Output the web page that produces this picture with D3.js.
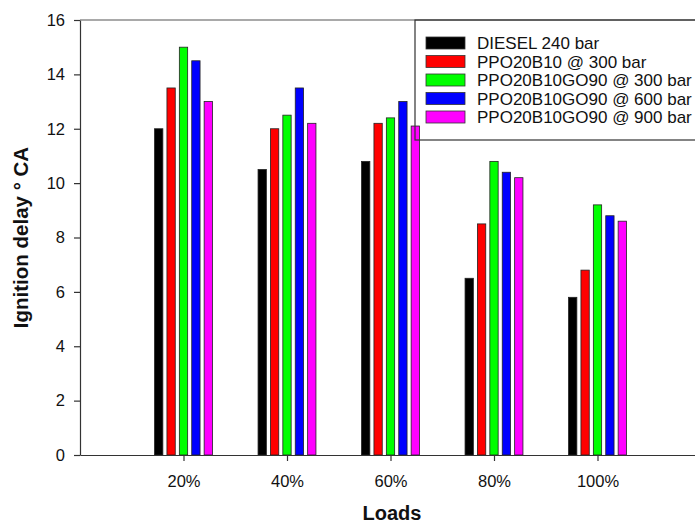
<!DOCTYPE html>
<html>
<head>
  <style>
    body { margin: 0; background: #fff; }
    svg { font-family: "Liberation Sans", Arial, sans-serif; }
  </style>
</head>
<body>
  <script src="https://cdn.jsdelivr.net/npm/d3@7"></script>
  <script>
    const loads = ['20%', '40%', '60%', '80%', '100%'];
    const seriesNames = [
      'DIESEL 240 bar',
      'PPO20B10 @ 300 bar',
      'PPO20B10GO90 @ 300 bar',
      'PPO20B10GO90 @ 600 bar',
      'PPO20B10GO90 @ 900 bar'
    ];
    const seriesColors = ['#000000', '#ff0000', '#00ff00', '#0000ff', '#ff00ff'];
    const diesel240 = [12, 10.5, 10.8, 6.5, 5.8];
    const ppo300 = [13.5, 12, 12.2, 8.5, 6.8];
    const go90at300 = [15, 12.5, 12.4, 10.8, 9.2];
    const go90at600 = [14.5, 13.5, 13, 10.4, 8.8];
    const go90at900 = [13, 12.2, 12.1, 10.2, 8.6];
    const yTicks = [0, 2, 4, 6, 8, 10, 12, 14, 16];

    const allSeries = [diesel240, ppo300, go90at300, go90at600, go90at900];

    const width = 695, height = 524;
    const plotLeft = 80, plotRight = 701, plotTop = 20, plotBottom = 455;

    const svg = d3.select('body').append('svg')
      .attr('width', width)
      .attr('height', height);

    const x = d3.scaleLinear().domain([0, loads.length + 1]).range([plotLeft, plotRight]);
    const y = d3.scaleLinear().domain([0, 16]).range([plotBottom, plotTop]);
    const inner = d3.scaleBand()
      .domain(d3.range(seriesNames.length))
      .range([-31, 31])
      .paddingInner(0.33)
      .paddingOuter(0.165);

    // bars
    allSeries.forEach((vals, s) => {
      svg.append('g').selectAll('rect')
        .data(vals)
        .enter()
        .append('rect')
        .attr('x', (d, i) => x(i + 1) + inner(s))
        .attr('y', d => y(d))
        .attr('width', inner.bandwidth())
        .attr('height', d => y(0) - y(d))
        .attr('fill', seriesColors[s])
        .attr('stroke', '#222')
        .attr('stroke-width', 0.8);
    });

    // axes
    const xAxis = d3.axisBottom(x)
      .tickValues(d3.range(1, loads.length + 1))
      .tickFormat(d => loads[d - 1])
      .tickSizeInner(6)
      .tickSizeOuter(0)
      .tickPadding(14);

    const yAxis = d3.axisLeft(y)
      .tickValues(yTicks)
      .tickSizeInner(6)
      .tickSizeOuter(0)
      .tickPadding(9);

    const gx = svg.append('g')
      .attr('transform', `translate(0,${plotBottom})`)
      .call(xAxis);
    const gy = svg.append('g')
      .attr('transform', `translate(${plotLeft},0)`)
      .call(yAxis);

    [gx, gy].forEach(g => {
      g.selectAll('path, line').attr('stroke', '#333').attr('stroke-width', 1.2);
      g.selectAll('text')
        .attr('fill', '#111')
        .style('font-size', '16.5px')
        .style('font-family', '"Liberation Sans", Arial, sans-serif');
    });

    // top frame line
    svg.append('line')
      .attr('x1', plotLeft).attr('x2', plotRight)
      .attr('y1', plotTop).attr('y2', plotTop)
      .attr('stroke', '#555')
      .attr('stroke-width', 1.2);

    // axis titles
    svg.append('text')
      .attr('x', 392)
      .attr('y', 520)
      .attr('text-anchor', 'middle')
      .style('font-size', '20px')
      .style('font-weight', 'bold')
      .attr('fill', '#111')
      .text('Loads');

    svg.append('text')
      .attr('transform', `translate(28,${(plotTop + plotBottom) / 2}) rotate(-90)`)
      .attr('text-anchor', 'middle')
      .style('font-size', '20.5px')
      .style('font-weight', 'bold')
      .attr('fill', '#111')
      .text('Ignition delay ° CA');

    // legend
    const legend = svg.append('g').attr('transform', 'translate(415,20)');
    legend.append('rect')
      .attr('x', 0).attr('y', 0)
      .attr('width', 300).attr('height', 120)
      .attr('fill', 'none')
      .attr('stroke', '#333')
      .attr('stroke-width', 1.2);

    const rows = legend.selectAll('g.row')
      .data(seriesNames)
      .enter()
      .append('g')
      .attr('class', 'row')
      .attr('transform', (d, i) => `translate(0,${23 + i * 18.5})`);

    rows.append('rect')
      .attr('x', 11).attr('y', -6)
      .attr('width', 39).attr('height', 12)
      .attr('fill', (d, i) => seriesColors[i])
      .attr('stroke', '#333')
      .attr('stroke-width', 0.8);

    rows.append('text')
      .attr('x', 62)
      .attr('y', 6)
      .style('font-size', '17px')
      .attr('fill', '#111')
      .text(d => d);
  </script>
</body>
</html>
